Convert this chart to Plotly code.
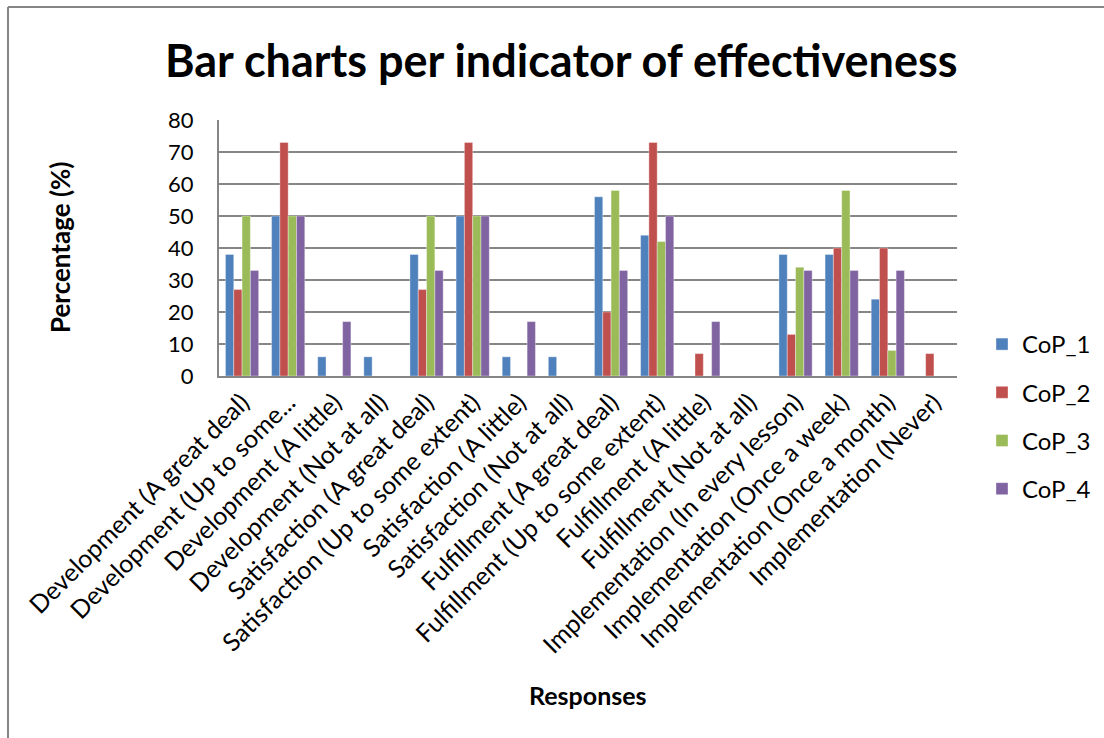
import plotly.graph_objects as go

categories = [
    "Development (A great deal)",
    "Development (Up to some...",
    "Development (A little)",
    "Development (Not at all)",
    "Satisfaction (A great deal)",
    "Satisfaction (Up to some extent)",
    "Satisfaction (A little)",
    "Satisfaction (Not at all)",
    "Fulfillment (A great deal)",
    "Fulfillment (Up to some extent)",
    "Fulfillment (A little)",
    "Fulfillment (Not at all)",
    "Implementation (In every lesson)",
    "Implementation (Once a week)",
    "Implementation (Once a month)",
    "Implementation (Never)",
]

cop_1 = [38, 50, 6, 6, 38, 50, 6, 6, 56, 44, 0, 0, 38, 38, 24, 0]
cop_2 = [27, 73, 0, 0, 27, 73, 0, 0, 20, 73, 7, 0, 13, 40, 40, 7]
cop_3 = [50, 50, 0, 0, 50, 50, 0, 0, 58, 42, 0, 0, 34, 58, 8, 0]
cop_4 = [33, 50, 17, 0, 33, 50, 17, 0, 33, 50, 17, 0, 33, 33, 33, 0]

series_names = ["CoP_1", "CoP_2", "CoP_3", "CoP_4"]
series_values = [cop_1, cop_2, cop_3, cop_4]
series_colors = ["#4F81BD", "#C0504D", "#9BBB59", "#8064A2"]

y_ticks = [0, 10, 20, 30, 40, 50, 60, 70, 80]

FONT = "Lato, Calibri, Carlito, sans-serif"

fig = go.Figure()
for name, vals, color in zip(series_names, series_values, series_colors):
    fig.add_trace(go.Bar(
        name=name,
        x=categories,
        y=vals,
        marker=dict(color=color, line=dict(color="rgba(255,255,255,0.45)", width=0.8)),
        legendgroup=name,
    ))

# plot area geometry in pixels
W, H = 1104, 738
L, R, T, B = 219, 147, 120, 362
pw, ph = W - L - R, H - T - B


def px_x(x):
    return (x - L) / pw


def px_y(y):
    return (H - B - y) / ph


fig.update_layout(
    width=W,
    height=H,
    margin=dict(l=L, r=R, t=T, b=B, autoexpand=False),
    paper_bgcolor="white",
    plot_bgcolor="white",
    font=dict(family=FONT, color="black", size=22),
    barmode="group",
    bargap=0.28,
    bargroupgap=0.0,
    showlegend=True,
    legend=dict(
        x=px_x(982), y=px_y(322), xanchor="left", yanchor="top",
        font=dict(size=24, family=FONT),
        tracegroupgap=14,
        itemwidth=30,
        bgcolor="rgba(0,0,0,0)",
    ),
    xaxis=dict(
        type="category",
        tickangle=-45,
        tickfont=dict(size=25, family=FONT),
        showline=True, linecolor="#868686", linewidth=2,
        showgrid=False,
        ticks="", ticklen=0,
        automargin=False,
    ),
    yaxis=dict(
        range=[0, 80],
        tickvals=y_ticks,
        tickfont=dict(size=22, family=FONT),
        ticklabelstandoff=19,
        showline=True, linecolor="#868686", linewidth=2,
        showgrid=True, gridcolor="#868686", gridwidth=2,
        zeroline=False,
        ticks="", ticklen=0,
        automargin=False,
    ),
    annotations=[
        dict(text="<b>Bar charts per indicator of effectiveness</b>",
             xref="paper", yref="paper", x=px_x(561), y=px_y(60),
             xanchor="center", yanchor="middle", showarrow=False,
             font=dict(size=45, family=FONT)),
        dict(text="<b>Percentage (%)</b>",
             xref="paper", yref="paper", x=px_x(60), y=px_y(247),
             xanchor="center", yanchor="middle", showarrow=False, textangle=-90,
             font=dict(size=26, family=FONT)),
        dict(text="<b>Responses</b>",
             xref="paper", yref="paper", x=px_x(588), y=px_y(695),
             xanchor="center", yanchor="middle", showarrow=False,
             font=dict(size=25, family=FONT)),
    ],
    shapes=[
        # chart frame: left and top edges
        dict(type="line", xref="paper", yref="paper",
             x0=px_x(8), x1=px_x(8), y0=px_y(7), y1=px_y(740),
             line=dict(color="#868686", width=2)),
        dict(type="line", xref="paper", yref="paper",
             x0=px_x(8), x1=px_x(1106), y0=px_y(7), y1=px_y(7),
             line=dict(color="#868686", width=2)),
    ],
)

fig.write_html("out.html")
